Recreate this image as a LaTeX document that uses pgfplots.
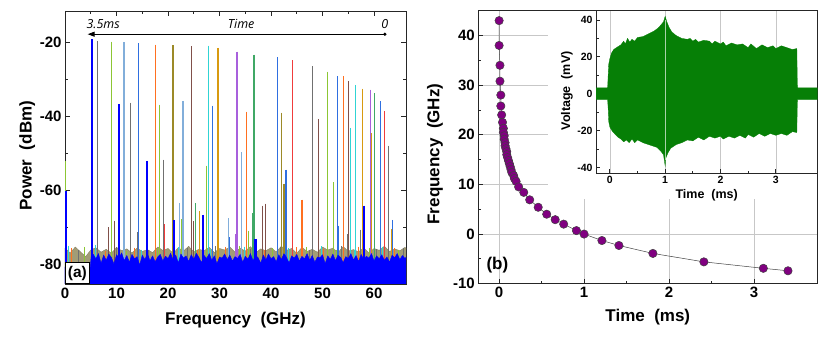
\documentclass[border=0pt]{standalone}
\usepackage{pgfplots}
\pgfplotsset{compat=1.18}
\usepackage{fontspec}
\setmainfont{Liberation Sans}
\newfontfamily\annfont{Open Sans}
\usetikzlibrary{arrows.meta}

\definecolor{cBlue}{HTML}{0000FF}
\definecolor{cGray}{HTML}{707070}
\definecolor{cYG}{HTML}{8CC634}
\definecolor{cLB}{HTML}{82AEDA}
\definecolor{cB2}{HTML}{2F6FE0}
\definecolor{cOr}{HTML}{FF7020}
\definecolor{cOl}{HTML}{9C8A28}
\definecolor{cBr}{HTML}{80504A}
\definecolor{cCy}{HTML}{30D4D4}
\definecolor{cGo}{HTML}{D89A10}
\definecolor{cVi}{HTML}{A860DC}
\definecolor{cGr}{HTML}{40A866}
\definecolor{cRd}{HTML}{F03C3C}
\definecolor{cNoise}{HTML}{A29C76}
\definecolor{cPur}{HTML}{800080}
\definecolor{cGreen}{HTML}{067F06}

% vertical spectral lines: error bars hanging down from each peak, clipped by the axis
\pgfplotsset{
  comb/.style={draw=none, mark=none,
    error bars/y dir=minus, error bars/y fixed=90,
    error bars/error mark=none,
    error bars/error bar style={draw=#1, line width=1.2pt}},
  combT/.style={draw=none, mark=none,
    error bars/y dir=minus, error bars/y fixed=90,
    error bars/error mark=none,
    error bars/error bar style={draw=#1, line width=2.2pt}},
  combN/.style={draw=none, mark=none,
    error bars/y dir=minus, error bars/y fixed=90,
    error bars/error mark=none,
    error bars/error bar style={draw=#1, line width=0.6pt}},
  frame/.style={scale only axis, anchor=south west,
    tick align=inside, axis line style={line width=0.9pt, black!85},
    tick style={line width=0.8pt, black!85},
    major tick length=5pt, minor tick length=3pt},
}

\begin{document}
\begin{tikzpicture}

% ---------------- (a) spectrum ----------------
\begin{axis}[frame, at={(65pt,54pt)}, width=341pt, height=273pt,
  xmin=0, xmax=66.2, ymin=-85.2, ymax=-11.43,
  xtick={0,10,20,30,40,50,60}, xticklabels={0,10,20,30,40,50,60},
  ytick={-80,-60,-40,-20}, yticklabels={-80,-60,-40,-20},
  minor x tick num=1, minor y tick num=1,
  tick label style={font=\fontsize{15}{15}\selectfont\bfseries},
  label style={font=\fontsize{17}{17}\selectfont\bfseries},
  xlabel={Frequency~~(GHz)}, ylabel={Power~~(dBm)},
  xlabel style={at={(rel axis cs:0.5,-0.132)}, anchor=center},
  ylabel style={at={(rel axis cs:-0.111,0.47)}, anchor=center},
]
% mixed noise floor of all traces
\addplot[fill=cNoise, draw=cNoise!80!black, line width=0.3pt] coordinates {
(0,-86) (0,-75.5) (1,-76.8) (2,-75.2) (3,-76.5) (4,-77.8) (5,-76.0) (6,-75.4) (7,-76.6)
(8,-75.8) (9,-76.9) (10,-75.3) (11,-76.2) (12,-75.7) (13,-76.8) (14,-75.5) (15,-76.4)
(16,-75.9) (17,-76.7) (18,-75.2) (19,-76.1) (20,-75.6) (21,-76.9) (22,-75.4) (23,-76.3)
(24,-75.0) (25,-76.5) (26,-75.8) (27,-76.2) (28,-75.3) (29,-76.7) (30,-75.6) (31,-76.0)
(32,-75.2) (33,-76.6) (34,-75.5) (35,-76.3) (36,-75.1) (37,-76.8) (38,-75.7) (39,-76.2)
(40,-75.4) (41,-76.5) (42,-75.0) (43,-76.1) (44,-75.6) (45,-76.9) (46,-75.3) (47,-76.4)
(48,-75.8) (49,-76.6) (50,-75.2) (51,-76.0) (52,-75.5) (53,-76.7) (54,-75.1) (55,-76.3)
(56,-75.9) (57,-76.5) (58,-75.4) (59,-76.8) (60,-75.6) (61,-76.1) (62,-75.0) (63,-76.4)
(64,-75.7) (65,-76.2) (66,-75.3) (66.5,-76.0) (66.5,-86)};
\addplot[combN=cOr] coordinates {(1.2,-75.5) (7.8,-76.2) (13.5,-75.4) (19.0,-74.8) (25.7,-75.9) (31.1,-75.2) (38.6,-76.0) (44.9,-75.3) (50.2,-75.8) (57.0,-75.1) (63.9,-75.6)};
\addplot[combN=cGray] coordinates {(2.6,-76.0) (9.9,-75.3) (16.2,-76.1) (23.7,-75.6) (29.2,-75.0) (36.0,-75.8) (41.7,-75.2) (47.5,-75.9) (53.6,-74.9) (60.5,-75.7) (65.7,-75.4)};
\addplot[combN=cYG] coordinates {(3.8,-75.2) (11.9,-76.4) (18.0,-75.5) (26.9,-75.8) (33.8,-74.9) (40.3,-75.6) (46.9,-75.2) (52.7,-76.0) (59.0,-75.4) (64.8,-75.9)};
\addplot[combN=cCy] coordinates {(0.7,-75.0) (5.9,-74.6) (14.8,-75.9) (21.9,-75.3) (28.3,-75.7) (34.9,-75.1) (43.4,-75.5) (49.8,-75.0) (56.2,-75.9) (61.6,-75.2)};

% spectral lines, one colour per trace: fundamental, harmonics and spurs
\addplot[comb=cGray] coordinates {(6.34,-19.5) (12.7,-36.2) (19.1,-51.6) (48.1,-26.4) (62.8,-47.8) (14.0,-71.2) (54.8,-71.7) (57.3,-70.5)};
\addplot[comb=cYG] coordinates {(0.1,-52) (9.06,-19.7) (18.3,-36.7) (27.4,-53.2) (50.9,-27.8) (22.7,-67.6) (35.6,-70.8) (52.1,-57.7)};
\addplot[comb=cLB] coordinates {(11.46,-19.9) (22.9,-35.7) (34.3,-49.6) (22.3,-63.3) (31.8,-67.4) (46.1,-65.4)};
\addplot[comb=cB2] coordinates {(14.3,-20.2) (28.7,-37.0) (42.9,-54.3) (41.3,-23.9) (52.9,-29.0) (61.3,-35.8) (31.9,-72.6) (53.0,-69.4) (63.6,-67.9)};
\addplot[comb=cOr] coordinates {(17.6,-20.5) (35.3,-38.6) (54.0,-29.1) (46.0,-62.4)};
\addplot[comb=cOl] coordinates {(20.97,-20.7) (42.1,-38.9) (42.5,-58.1)};
\addplot[comb=cBr] coordinates {(24.6,-20.9) (49.2,-40.6) (55.1,-30.3) (8.5,-69.9) (9.6,-68.1) (24.9,-68.3) (38.3,-64.0) (39.0,-63.5)};
\addplot[comb=cCy] coordinates {(27.8,-20.8) (55.4,-43.0) (56.4,-31.4)};
\addplot[comb=cGo] coordinates {(29.7,-21.4) (59.5,-44.5) (57.8,-32.4) (26.1,-65.5) (63.4,-70.3)};
\addplot[comb=cVi] coordinates {(33.4,-22.4) (59.3,-32.7) (33.2,-71.7)};
\addplot[comb=cGr] coordinates {(36.7,-23.2) (60.1,-33.7) (25.4,-63.3) (36.4,-66.1)};
\addplot[comb=cRd] coordinates {(44.2,-24.7) (62.0,-38.4) (19.3,-69.0)};

% last trace: blue, drawn on top
\addplot[fill=cBlue, draw=cBlue, line width=0.4pt] coordinates {
(0,-86) (0,-80.6) (0.5,-80.2) (1.0,-80.8) (1.5,-80.3) (2.0,-80.9) (2.5,-80.4) (3.0,-80.7)
(3.5,-80.2) (4.0,-80.6) (4.5,-80.9) (4.9,-80.5) (5.1,-77.6) (5.5,-77.2) (6.0,-78.4)
(6.5,-77.0) (7.0,-79.6) (7.5,-77.4) (8.0,-78.8) (8.5,-77.1) (9.0,-78.0) (9.5,-79.8)
(10.0,-77.3) (10.5,-78.1) (11.0,-76.8) (11.5,-78.9) (12.0,-77.5) (12.5,-79.3) (13.0,-77.2)
(13.5,-78.4) (14.0,-77.8) (14.5,-80.1) (15.0,-77.4) (15.5,-78.6) (16.0,-77.0) (16.5,-78.9)
(17.0,-77.6) (17.5,-79.2) (18.0,-77.9) (18.5,-77.2) (19.0,-79.0) (19.5,-77.7) (20.0,-78.3)
(20.5,-76.9) (21.0,-78.7) (21.5,-77.4) (22.0,-79.5) (22.5,-77.1) (23.0,-78.2) (23.5,-77.6)
(24.0,-79.1) (24.5,-77.3) (25.0,-78.5) (25.5,-76.9) (26.0,-78.0) (26.5,-79.4) (27.0,-77.5)
(27.5,-78.3) (28.0,-77.0) (28.5,-78.8) (29.0,-77.6) (29.5,-79.7) (30.0,-77.9) (30.5,-78.2)
(31.0,-77.1) (31.5,-78.6) (32.0,-77.4) (32.5,-79.0) (33.0,-77.8) (33.5,-78.3) (34.0,-77.2)
(34.5,-79.3) (35.0,-77.7) (35.5,-78.5) (36.0,-77.0) (36.5,-78.9) (37.0,-77.5) (37.5,-78.1)
(38.0,-79.6) (38.5,-77.4) (39.0,-78.7) (39.5,-77.1) (40.0,-78.4) (40.5,-77.8) (41.0,-79.2)
(41.5,-77.3) (42.0,-78.6) (42.5,-77.0) (43.0,-78.0) (43.5,-79.5) (44.0,-77.6) (44.5,-78.2)
(45.0,-77.2) (45.5,-79.0) (46.0,-77.7) (46.5,-78.4) (47.0,-77.0) (47.5,-78.8) (48.0,-77.5)
(48.5,-79.3) (49.0,-77.9) (49.5,-78.1) (50.0,-77.3) (50.5,-79.7) (51.0,-77.6) (51.5,-78.5)
(52.0,-77.1) (52.5,-78.9) (53.0,-77.4) (53.5,-78.0) (54.0,-79.4) (54.5,-77.8) (55.0,-78.3)
(55.5,-77.0) (56.0,-78.7) (56.5,-77.5) (57.0,-79.1) (57.5,-77.2) (58.0,-78.6) (58.5,-77.7)
(59.0,-78.2) (59.5,-77.0) (60.0,-79.0) (60.5,-77.6) (61.0,-78.4) (61.5,-77.3) (62.0,-78.8)
(62.5,-77.9) (63.0,-79.3) (63.5,-77.4) (64.0,-78.1) (64.5,-77.0) (65.0,-78.6) (65.5,-77.5)
(66.0,-78.3) (66.5,-77.6) (66.5,-86)};
\addplot[combT=cBlue] coordinates {(0.15,-60) (5.18,-19.1) (10.5,-36.5) (15.9,-51.9) (21.2,-67.9) (26.8,-66.5) (37.0,-73.0) (58.1,-64.0)};

% time arrow
\draw[line width=0.9pt, -{Triangle[length=7pt,width=5pt]}] (axis cs:62.1,-17.7) -- (axis cs:4.4,-17.7);
\fill (axis cs:62.1,-17.7) circle (1.8pt);
\node[font=\annfont\itshape\fontsize{12.5}{12.5}\selectfont] at (axis cs:7.4,-15.0) {3.5ms};
\node[font=\annfont\itshape\fontsize{12.5}{12.5}\selectfont] at (axis cs:34.2,-15.0) {Time};
\node[font=\annfont\itshape\fontsize{12.5}{12.5}\selectfont] at (axis cs:62.1,-15.0) {0};
\node[draw=black, line width=0.8pt, fill=white, anchor=south west, inner sep=0pt,
  minimum width=24pt, minimum height=21pt,
  font=\fontsize{15.5}{15.5}\selectfont\bfseries] at (rel axis cs:0,0) {(a)};
\end{axis}

% ---------------- (b) frequency vs time ----------------
\begin{axis}[frame, at={(478.3pt,54.3pt)}, width=339pt, height=273pt,
  xmin=-0.245, xmax=3.745, ymin=-10, ymax=45,
  xtick={0,1,2,3}, xticklabels={0,1,2,3},
  ytick={-10,0,10,20,30,40}, yticklabels={-10,0,10,20,30,40},
  minor x tick num=1, minor y tick num=1,
  xtick pos=left, ytick pos=left,
  grid=major, major grid style={line width=0.6pt, black!22},
  tick label style={font=\fontsize{15}{15}\selectfont\bfseries},
  label style={font=\fontsize{17}{17}\selectfont\bfseries},
  xlabel={Time~~(ms)}, ylabel={Frequency~~(GHz)},
  xlabel style={at={(rel axis cs:0.5,-0.121)}, anchor=center},
  ylabel style={at={(rel axis cs:-0.128,0.475)}, anchor=center},
]
\addplot[black!75, line width=0.5pt, mark=*, mark size=4.2pt,
  mark options={draw=none, fill=cPur}] coordinates {
(0.00,43.0) (0.00,38.0) (0.01,34.0) (0.01,30.8) (0.02,28.0) (0.02,25.8) (0.03,24.0)
(0.04,22.5) (0.05,21.3) (0.05,20.5) (0.06,19.8) (0.06,19.1) (0.07,18.4) (0.07,17.8)
(0.08,17.2) (0.09,16.6) (0.09,16.0) (0.10,15.4) (0.11,14.8) (0.12,14.2) (0.13,13.6)
(0.14,13.0) (0.15,12.4) (0.17,11.8) (0.18,11.2) (0.20,10.6) (0.23,9.5) (0.29,8.4)
(0.36,6.9) (0.46,5.4) (0.56,4.0) (0.66,2.9) (0.76,2.0) (0.91,0.7) (1.00,0.0)
(1.21,-1.3) (1.41,-2.3) (1.81,-3.9) (2.41,-5.6) (3.11,-6.9) (3.40,-7.4)};
\node[font=\fontsize{17}{17}\selectfont\bfseries] at (axis cs:-0.02,-6.2) {(b)};
\end{axis}

% the inset covers the upper right part of (b)
\fill[white] (548pt,139pt) rectangle (817.3pt,327.3pt);

% ---------------- inset: voltage vs time ----------------
\begin{axis}[frame, at={(596pt,165pt)}, width=221.3pt, height=162.3pt,
  xmin=-0.25, xmax=3.75, ymin=-42.9, ymax=45,
  xtick={0,1,2,3}, xticklabels={0,1,2,3},
  ytick={-40,-20,0,20,40}, yticklabels={-40,-20,0,20,40},
  minor x tick num=1, minor y tick num=1,
  xtick pos=left, ytick pos=left,
  major tick length=4pt, minor tick length=2.5pt,
  xmajorgrids, major grid style={line width=0.6pt, black!22},
  tick label style={font=\fontsize{10.5}{10.5}\selectfont\bfseries},
  label style={font=\fontsize{12.5}{12.5}\selectfont\bfseries},
  xlabel={Time~~(ms)}, ylabel={Voltage~~(mV)},
  xlabel style={at={(rel axis cs:0.5,-0.139)}, anchor=center},
  ylabel style={at={(rel axis cs:-0.131,0.506)}, anchor=center},
]
\addplot[fill=cGreen, draw=cGreen, line width=0.3pt] coordinates {
(-0.25,3.2) (-0.04,3.2) (-0.03,10) (-0.02,16) (0.0,19) (0.03,22) (0.07,24) (0.12,25)
(0.2,26.5) (0.25,28.5) (0.28,27) (0.32,30) (0.36,28) (0.4,29.5) (0.45,28.5) (0.5,30.5)
(0.6,31) (0.7,32.5) (0.8,34) (0.87,35.5) (0.93,37.5) (0.97,39) (1.0,42) (1.03,39)
(1.07,36) (1.12,33.5) (1.2,31.5) (1.3,30) (1.4,29.5) (1.45,30) (1.5,28.5) (1.55,29.5)
(1.6,28) (1.7,29) (1.8,28.5) (1.85,27) (1.9,28.5) (2.0,27) (2.05,28) (2.1,26) (2.2,27.5)
(2.3,26.5) (2.4,27) (2.5,25) (2.55,27) (2.65,24.5) (2.75,26.5) (2.85,25) (2.95,26)
(3.0,24.5) (3.1,26) (3.2,25) (3.3,24) (3.38,24.5) (3.39,3.2) (3.75,3.2)
(3.75,-3.2) (3.39,-3.2) (3.38,-21) (3.3,-20.5) (3.2,-22.5) (3.1,-21.5) (3.0,-22.5)
(2.9,-21.5) (2.8,-23) (2.7,-21.5) (2.6,-23.5) (2.5,-22) (2.45,-24) (2.35,-22.5)
(2.25,-24) (2.15,-23) (2.05,-24.5) (2.0,-23) (1.9,-24) (1.8,-23) (1.7,-25) (1.6,-23.5)
(1.5,-25.5) (1.4,-25) (1.3,-26.5) (1.2,-27.5) (1.1,-29.5) (1.05,-32) (1.01,-35)
(1.0,-39) (0.97,-33) (0.92,-31) (0.85,-29) (0.75,-28) (0.6,-26.5) (0.5,-25) (0.45,-26.5)
(0.4,-24.5) (0.35,-26.5) (0.3,-25) (0.25,-26) (0.2,-24.5) (0.15,-23.5) (0.1,-22)
(0.05,-20.5) (0.0,-18) (-0.02,-15) (-0.03,-8) (-0.04,-3.2) (-0.25,-3.2)};
\addplot[cGreen!35!white, line width=0.6pt] coordinates {(1.0,-36) (1.0,40)};
\end{axis}

\pgfresetboundingbox
\path[use as bounding box] (0pt,0pt) rectangle (830pt,338pt);
\end{tikzpicture}
\end{document}
